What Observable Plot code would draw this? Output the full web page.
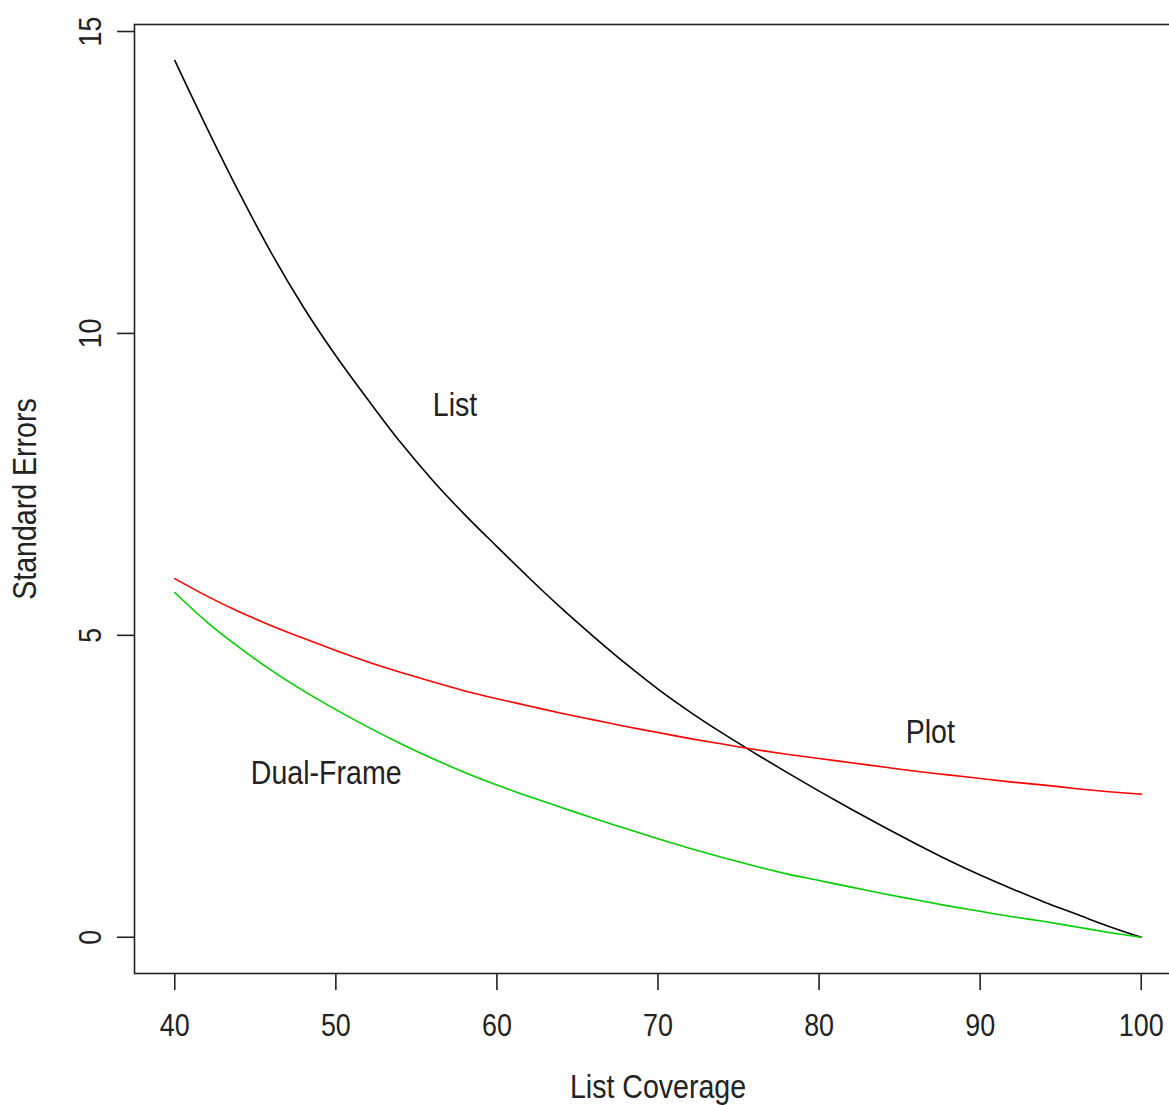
<!DOCTYPE html>
<html>
<head>
<meta charset="utf-8">
<script src="https://cdn.jsdelivr.net/npm/d3@7"></script>
<script src="https://cdn.jsdelivr.net/npm/@observablehq/plot@0.6"></script>
<style>
  html, body { margin: 0; padding: 0; background: #fff; overflow: hidden; }
  #chart { width: 1169px; height: 1105px; overflow: hidden; }
</style>
</head>
<body>
<div id="chart"></div>
<script>
const coverage = [40,42,44,46,48,50,52,54,56,58,60,62,64,66,68,70,72,74,76,78,80,82,84,86,88,90,92,94,96,98,100];
const seList = [14.52,13.40,12.33,11.33,10.43,9.63,8.90,8.20,7.57,7.00,6.47,5.95,5.45,4.98,4.53,4.11,3.73,3.38,3.05,2.73,2.42,2.12,1.83,1.55,1.28,1.03,0.80,0.58,0.38,0.18,0.0];
const sePlot = [5.94,5.65,5.39,5.16,4.95,4.75,4.56,4.39,4.23,4.08,3.95,3.83,3.71,3.60,3.49,3.39,3.29,3.20,3.11,3.03,2.96,2.89,2.82,2.75,2.69,2.63,2.57,2.52,2.46,2.41,2.37];
const seDual = [5.71,5.22,4.80,4.42,4.08,3.77,3.48,3.21,2.96,2.73,2.52,2.33,2.15,1.97,1.80,1.63,1.47,1.32,1.18,1.05,0.94,0.83,0.72,0.62,0.52,0.43,0.34,0.26,0.17,0.08,0.0];
const xTicks = [40,50,60,70,80,90,100];
const yTicks = [0,5,10,15];
const seriesNames = ["List","Plot","Dual-Frame"];
const seriesColors = ["#000000","#ff0000","#00cd00"];
const labelX = [57.4, 86.9, 49.4];
const labelY = [8.82, 3.39, 2.72];
const xTitle = "List Coverage";
const yTitle = "Standard Errors";

const seriesValues = [seList, sePlot, seDual];
const rows = [];
seriesNames.forEach((name, i) => {
  coverage.forEach((c, j) => rows.push({series: name, x: c, y: seriesValues[i][j]}));
});
const labels = seriesNames.map((name, i) => ({name, x: labelX[i], y: labelY[i]}));

const font = "'Liberation Sans', Arial, sans-serif";
const ink = "#222";

const chart = Plot.plot({
  width: 1190,
  height: 1105,
  marginLeft: 134,
  marginRight: 9,
  marginTop: 24,
  marginBottom: 132,
  style: {fontFamily: font, fontSize: "32px", color: ink, background: "#fff", overflow: "visible", maxWidth: "none"},
  x: {domain: [37.5, 102.5]},
  y: {domain: [-0.6, 15.116]},
  color: {domain: seriesNames, range: seriesColors},
  marks: [
    Plot.line(rows, {x: "x", y: "y", z: "series", stroke: "series", strokeWidth: 1.6, curve: "monotone-x"}),
    Plot.frame({stroke: ink, strokeWidth: 1.6}),
    Plot.axisX({ticks: xTicks, tickSize: 17, tickPadding: 23, strokeWidth: 1.6, stroke: ink, fill: ink, label: null, fontSize: 32}),
    Plot.axisY({ticks: yTicks, tickSize: 17, tickPadding: 17, tickRotate: -90, strokeWidth: 1.6, stroke: ink, fill: ink, label: null, fontSize: 32}),
    Plot.text(labels, {x: "x", y: "y", text: "name", fontSize: 34, fill: ink, textAnchor: "middle", lineAnchor: "middle"}),
    Plot.text([xTitle], {frameAnchor: "bottom", dy: 114, fontSize: 34, fill: ink, lineAnchor: "middle"}),
    Plot.text([yTitle], {frameAnchor: "left", dx: -109, rotate: -90, fontSize: 34, fill: ink, lineAnchor: "middle", textAnchor: "middle"})
  ]
});
document.getElementById("chart").appendChild(chart);
// narrow the glyphs (reference uses a condensed sans face)
chart.querySelectorAll("text").forEach(t => {
  const w = t.getComputedTextLength();
  if (w > 0) {
    t.setAttribute("textLength", (w * 0.84).toFixed(1));
    t.setAttribute("lengthAdjust", "spacingAndGlyphs");
  }
});
</script>
</body>
</html>
